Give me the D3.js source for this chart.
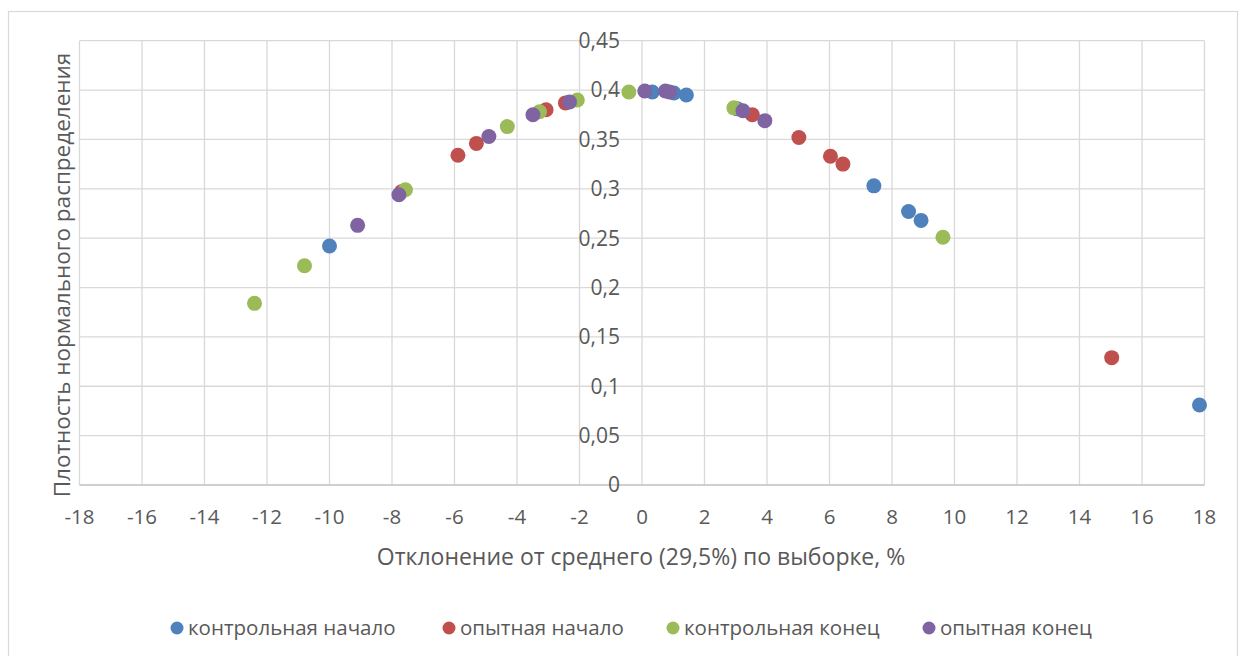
<!DOCTYPE html>
<html><head><meta charset="utf-8">
<script src="https://cdn.jsdelivr.net/npm/d3@7"></script>
<style>body{margin:0;background:#fff}svg{display:block}</style>
</head><body>
<script>
const seriesNames = ["контрольная начало","опытная начало","контрольная конец","опытная конец"];
const seriesColors = ["#4f81bd","#c0504d","#9bbb59","#8064a2"];
const blueX = [-10.0, 0.33, 1.02, 1.42, 3.05, 7.42, 8.53, 8.93, 17.84];
const blueY = [0.242, 0.398, 0.397, 0.395, 0.381, 0.303, 0.277, 0.268, 0.081];
const redX  = [-7.7, -5.89, -5.30, -3.07, -2.45, 3.53, 5.02, 6.03, 6.43, 15.03];
const redY  = [0.297, 0.334, 0.346, 0.380, 0.387, 0.375, 0.352, 0.333, 0.325, 0.129];
const greenX = [-12.4, -10.8, -7.57, -4.31, -3.28, -2.07, -0.42, 2.94, 9.63];
const greenY = [0.184, 0.222, 0.299, 0.363, 0.378, 0.390, 0.398, 0.382, 0.251];
const purpleX = [-9.10, -7.78, -4.90, -3.49, -2.32, 0.09, 0.75, 0.88, 3.23, 3.93];
const purpleY = [0.263, 0.294, 0.353, 0.375, 0.388, 0.399, 0.399, 0.398, 0.379, 0.369];
const xTicks = d3.range(-18, 19, 2);
const yTicks = d3.range(0, 0.4501, 0.05);
const xTitle = "Отклонение от среднего (29,5%) по выборке, %";
const yTitle = "Плотность нормального распределения";

const W = 1247, H = 656;
const svg = d3.select("body").append("svg").attr("width", W).attr("height", H);
const font = "'Open Sans', 'Noto Sans', sans-serif";
const textColor = "#595959";
const grid = "#d9d9d9";

svg.append("rect").attr("x", 8.5).attr("y", 11.5).attr("width", 1229).attr("height", 660)
  .attr("fill", "#fff").attr("stroke", grid).attr("stroke-width", 1.2);

const x = d3.scaleLinear().domain([-18, 18]).range([79.5, 1204.5]);
const y = d3.scaleLinear().domain([0, 0.45]).range([485, 40.7]);

const g = svg.append("g");
g.selectAll("line.v").data(xTicks).join("line").attr("class","v")
  .attr("x1", d => x(d)).attr("x2", d => x(d)).attr("y1", y(0)).attr("y2", y(0.45))
  .attr("stroke", grid).attr("stroke-width", 1.3);
g.selectAll("line.h").data(yTicks).join("line").attr("class","h")
  .attr("x1", x(-18)).attr("x2", x(18)).attr("y1", d => y(d)).attr("y2", d => y(d))
  .attr("stroke", d => d === 0 ? "#bfbfbf" : grid).attr("stroke-width", 1.3);

// x tick labels
g.selectAll("text.xt").data(xTicks).join("text").attr("class","xt")
  .attr("x", d => x(d)).attr("y", 517).attr("dy", "0.35em").attr("text-anchor","middle")
  .attr("font-family", font).attr("font-size", 20.5).attr("fill", textColor)
  .text(d => String(d));
// y tick labels (axis crosses at x=0)
const yfmt = d => d === 0 ? "0" : d3.format(".2~f")(d).replace(".", ",");
g.selectAll("text.yt").data(yTicks).join("text").attr("class","yt")
  .attr("x", x(0) - 22).attr("y", d => y(d)).attr("dy", "0.35em").attr("text-anchor","end")
  .attr("font-family", font).attr("font-size", 21).attr("fill", textColor)
  .text(yfmt);

svg.append("text").attr("x", 641).attr("y", 557).attr("dy", "0.35em").attr("text-anchor","middle")
  .attr("font-family", font).attr("font-size", 23).attr("fill", textColor).text(xTitle);
svg.append("text").attr("transform", "translate(62,275) rotate(-90)").attr("dy", "0.35em").attr("text-anchor","middle")
  .attr("font-family", font).attr("font-size", 22.5).attr("fill", textColor).text(yTitle);

const data = [[blueX, blueY],[redX, redY],[greenX, greenY],[purpleX, purpleY]];
data.forEach(([xs, ys], i) => {
  svg.append("g").selectAll("circle").data(xs.map((v, j) => [v, ys[j]])).join("circle")
    .attr("cx", d => x(d[0])).attr("cy", d => y(d[1])).attr("r", 7.5)
    .attr("fill", seriesColors[i]);
});

// legend
const legX = [177, 449, 673, 929];
seriesNames.forEach((n, i) => {
  svg.append("circle").attr("cx", legX[i]).attr("cy", 628).attr("r", 6.5).attr("fill", seriesColors[i]);
  svg.append("text").attr("x", legX[i] + 11).attr("y", 628).attr("dy", "0.35em")
    .attr("font-family", font).attr("font-size", 20.5).attr("fill", textColor).text(n);
});
</script>
</body></html>
